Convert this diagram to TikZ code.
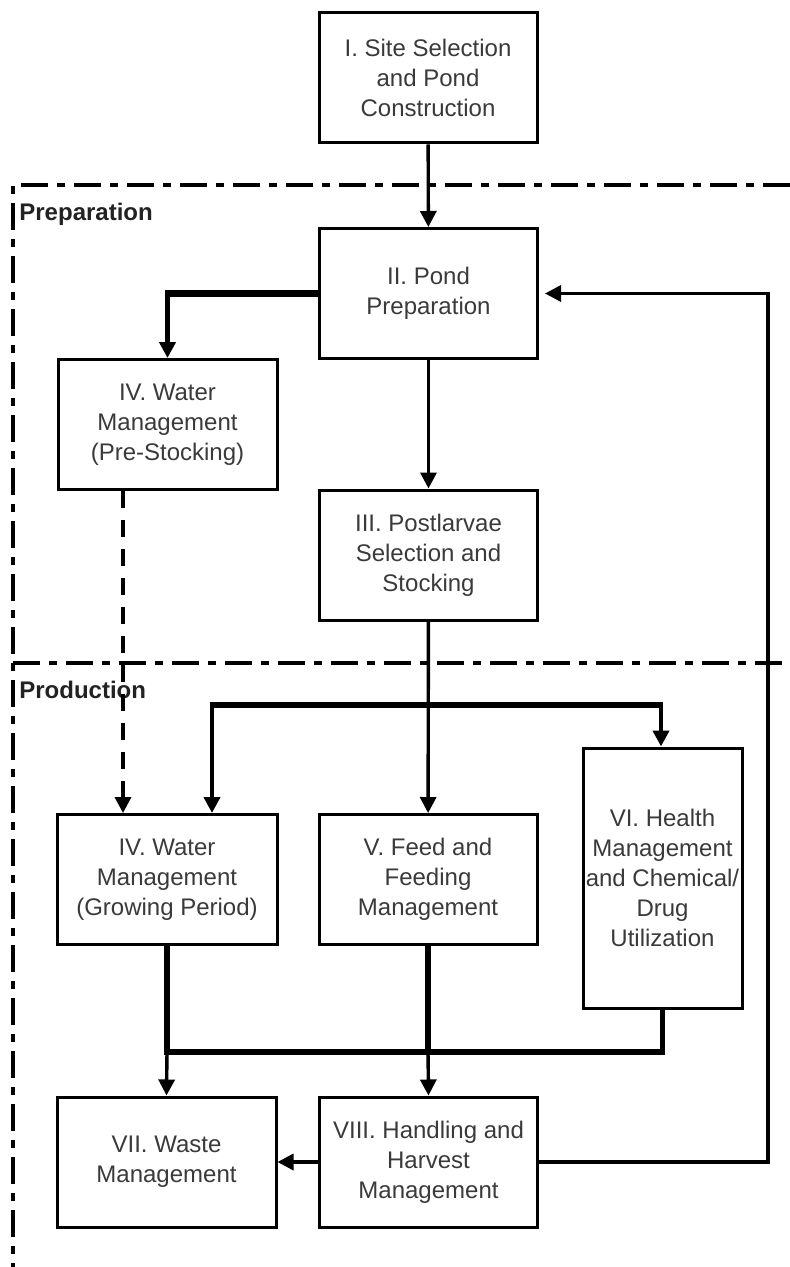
\documentclass[tikz,border=0pt]{standalone}
\usepackage{fontspec}
\setmainfont{Liberation Sans}
\usetikzlibrary{arrows.meta,calc}
\definecolor{txtgray}{HTML}{3A3A3A}
\definecolor{lblcol}{HTML}{222222}
\begin{document}
\begin{tikzpicture}[x=0.5pt,y=-0.5pt,
  box/.style={draw=black, line width=1.5pt, fill=white, align=center, text=txtgray,
    font=\fontsize{12}{15}\selectfont, inner sep=0pt, minimum width=109pt, minimum height=65pt},
  lbl/.style={font=\bfseries\fontsize{12}{14}\selectfont, text=lblcol, inner sep=0pt, anchor=west},
  tip/.tip={Triangle[width=8pt,length=8pt]},
  thinarrow/.style={line width=1.7pt, -tip},
  medarrow/.style={line width=2.3pt, -tip},
  thickh/.style={line width=3.4pt},
  thickv/.style={line width=2.6pt},
  dasharrow/.style={line width=1.7pt, dash pattern=on 8.5pt off 6pt, -tip},
  frame/.style={line width=1.8pt, dash pattern=on 13.5pt off 4.5pt on 4pt off 4.5pt}
]
\useasboundingbox[fill=white] (0,0) rectangle (790,1267);

% phase frame (dash-dot)
\coordinate (frTR) at (790,185);
\coordinate (frTL) at (13,185);
\coordinate (frBL) at (13,1267);
\coordinate (frML) at (13,663);
\coordinate (frMR) at (790,663);
\draw[frame] (frTR) -- (frTL) -- (frBL);
\draw[frame] (frML) -- (frMR);

\node[lbl] (prep) at (19,214) {Preparation};
\node[lbl] (prod) at (19,690) {Production};

% boxes
\node[box] (I) at (428,78) {I. Site Selection\\and Pond\\Construction};
\node[box] (II) at (428.5,293.5) {II. Pond\\Preparation};
\node[box, minimum width=109.5pt] (IVa) at (167.5,424.5) {IV. Water\\Management\\(Pre-Stocking)};
\node[box] (III) at (428.5,555) {III. Postlarvae\\Selection and\\Stocking};
\node[box, minimum width=110pt] (IVb) at (167,879.5) {IV. Water\\Management\\(Growing Period)};
\node[box] (V) at (428,879.5) {V. Feed and\\Feeding\\Management};
\node[box, minimum width=79.5pt, minimum height=130pt] (VI) at (662.5,878) {VI. Health\\Management\\and Chemical/\\Drug\\Utilization};
\node[box, minimum width=109.5pt] (VII) at (166.5,1162) {VII. Waste\\Management};
\node[box] (VIII) at (428.5,1162) {VIII. Handling and\\Harvest\\Management};

% main chain
\draw[thinarrow] (I) -- (II);
\draw[thinarrow] (II) -- (III);
\draw[thinarrow] (III) -- (V);

% II -> IV (pre-stocking)
\draw[medarrow] (II.west -| IVa.north) -- (IVa.north);
\draw[thickh] (II.west) -- ([xshift=-1.15pt]II.west -| IVa.north);

% IV pre -> IV growing (dashed)
\draw[dasharrow] ([xshift=-22.25pt]IVa.south) -- ([xshift=-22pt]IVb.north);

% top bus from III
\coordinate (busTL) at (212,705);
\coordinate (busTR) at (661,705);
\draw[medarrow] (busTL) -- (busTL |- IVb.north);
\draw[medarrow] (busTR) -- (busTR |- VI.north);
\draw[thickh] ([xshift=-1.15pt]busTL) -- ([xshift=1.15pt]busTR);

% bottom bus
\coordinate (busBL) at (167,1052);
\coordinate (busBM) at (428,1052);
\coordinate (busBR) at (662.5,1052);
\draw[thickv] (IVb.south) -- (busBL);
\draw[thickv] (V.south) -- (busBM);
\draw[thickv] (VI.south) -- (busBR);
\draw[thickh] ([xshift=-1.3pt]busBL) -- ([xshift=1.3pt]busBR);
\draw[thinarrow] (busBL) -- (VII.north);
\draw[thinarrow] (busBM) -- (VIII.north);

% VIII -> VII
\draw[thinarrow] (VIII.west) -- (VII.east);

% feedback VIII -> II
\coordinate (fbtop) at (768,293.5);
\draw[thinarrow, shorten >=3pt] (VIII.east) -| (fbtop) -- (II.east);
\end{tikzpicture}
\end{document}
